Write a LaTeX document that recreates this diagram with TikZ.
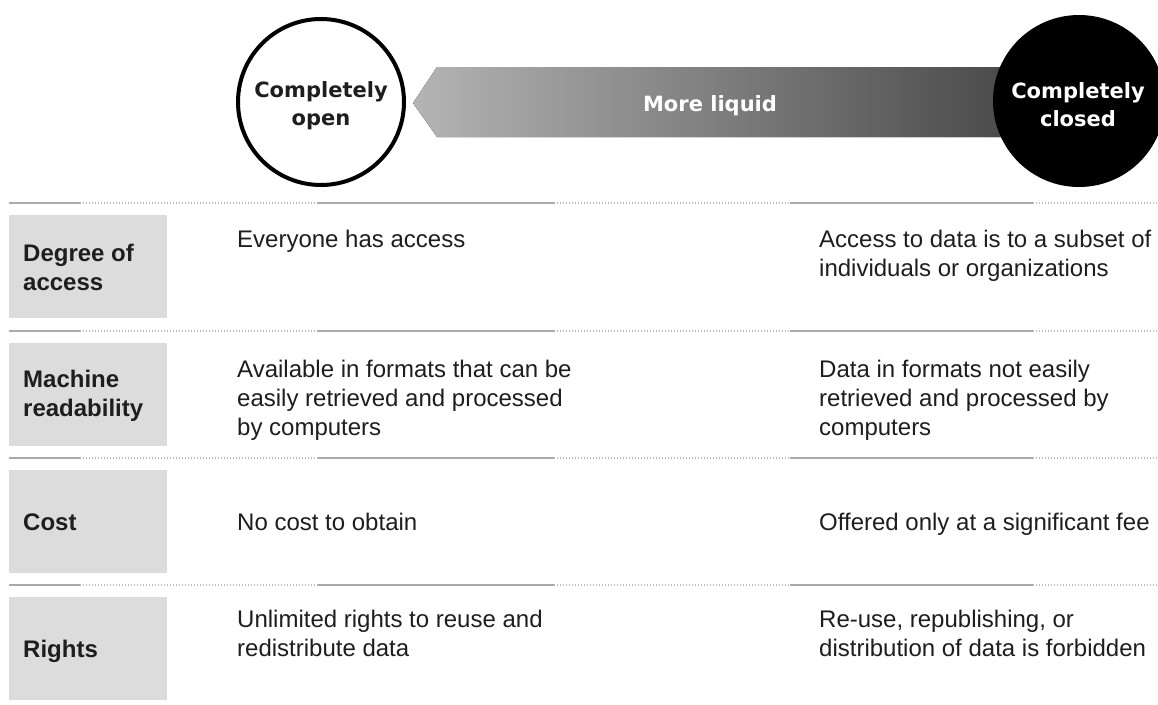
\documentclass[tikz,border=0pt]{standalone}
\usepackage{fontspec}
\setmainfont{Liberation Sans}
\newfontfamily\djv{DejaVu Sans}
\definecolor{boxgray}{HTML}{DCDCDC}
\definecolor{linegray}{HTML}{A9A9A9}
\definecolor{dotgray}{HTML}{BDBDBD}
\definecolor{arrowL}{HTML}{B4B4B4}
\definecolor{arrowR}{HTML}{4A4A4A}
\definecolor{txt}{HTML}{1E1E1E}
\newcommand{\mlines}[1]{\begin{tabular}[t]{@{}l@{}}#1\end{tabular}}
\newcommand{\clines}[1]{\begin{tabular}[t]{@{}c@{}}#1\end{tabular}}
\begin{document}
\begin{tikzpicture}[x=1pt,y=-1pt,
  catbox/.style={fill=boxgray, draw=none, inner sep=0, anchor=north west, minimum width=158pt, minimum height=103pt},
  catlabel/.style={anchor=base west, inner sep=0, font=\fontsize{24}{29}\selectfont\bfseries, text=txt},
  body/.style={anchor=base west, inner sep=0, font=\fontsize{24}{29}\selectfont, text=txt},
  solidsep/.style={draw=linegray, line width=2.5pt},
  dotsep/.style={draw=dotgray, line width=1.5pt, dash pattern=on 1pt off 2pt},
  bigtext/.style={anchor=base, inner sep=0, font=\djv\bfseries\fontsize{21}{28}\selectfont}
]
\useasboundingbox (0,0) rectangle (1158,704);
\fill[white] (0,0) rectangle (1158,704);

% separators
\foreach \yy in {203,331,458,585}{
  \draw[solidsep] (9,\yy) -- (80,\yy);
  \draw[dotsep] (80,\yy) -- (318,\yy);
  \draw[solidsep] (318,\yy) -- (554,\yy);
  \draw[dotsep] (554,\yy) -- (790,\yy);
  \draw[solidsep] (790,\yy) -- (1033,\yy);
  \draw[dotsep] (1033,\yy) -- (1158,\yy);
}

% arrow
\fill[left color=arrowL, right color=arrowR] (413,103) -- (437,67) -- (1010,67) -- (1010,137) -- (437,137) -- cycle;
\node[bigtext, text=white] (liquid) at (710,111) {More liquid};

% circles
\node[draw=black, line width=4pt, fill=white, circle, minimum size=166pt, inner sep=0] (open) at (321,102) {};
\node[bigtext, text=txt] (opentext) at (321,97) {\clines{Completely\\open}};
\node[fill=black, circle, minimum size=172pt, inner sep=0] (closed) at (1079,101) {};
\node[bigtext, text=white] (closedtext) at (1078,98) {\clines{Completely\\closed}};

% category boxes
\node[catbox] (b1) at (9,215) {};
\node[catbox] (b2) at (9,343) {};
\node[catbox] (b3) at (9,470) {};
\node[catbox] (b4) at (9,597) {};
\node[catlabel] (l1) at (23,261) {\mlines{Degree of\\access}};
\node[catlabel] (l2) at (23,387) {\mlines{Machine\\readability}};
\node[catlabel] (l3) at (23,530) {Cost};
\node[catlabel] (l4) at (23,657) {Rights};

% open column
\node[body] (o1) at (237,247) {Everyone has access};
\node[body] (o2) at (237,377) {\mlines{Available in formats that can be\\easily retrieved and processed\\by computers}};
\node[body] (o3) at (237,530) {No cost to obtain};
\node[body] (o4) at (237,627) {\mlines{Unlimited rights to reuse and\\redistribute data}};

% closed column
\node[body] (c1) at (819,247) {\mlines{Access to data is to a subset of\\individuals or organizations}};
\node[body] (c2) at (819,377) {\mlines{Data in formats not easily\\retrieved and processed by\\computers}};
\node[body] (c3) at (819,530) {Offered only at a significant fee};
\node[body] (c4) at (819,627) {\mlines{Re-use, republishing, or\\distribution of data is forbidden}};
\end{tikzpicture}
\end{document}
